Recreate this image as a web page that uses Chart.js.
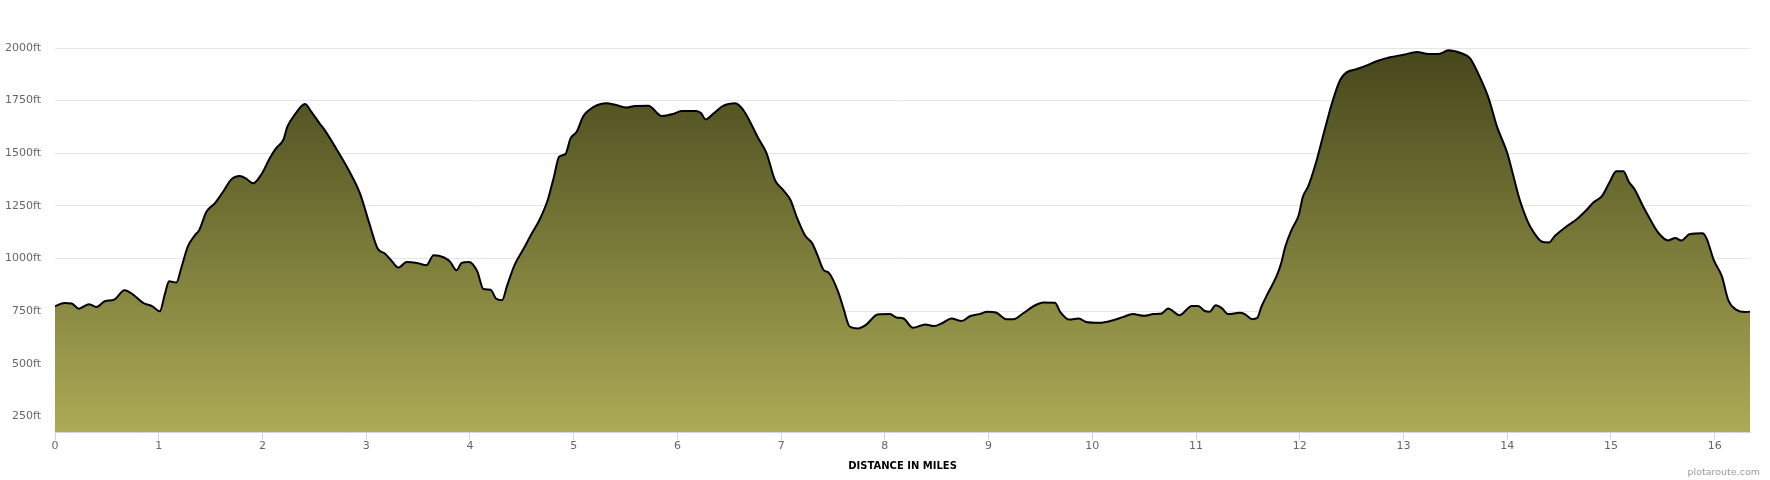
<!DOCTYPE html>
<html>
<head>
<meta charset="utf-8">
<script src="https://cdn.jsdelivr.net/npm/chart.js@4/dist/chart.umd.min.js"></script>
<style>
    body { margin: 0; background: #fff; }
    #wrap { position: relative; width: 1770px; height: 480px; }
    #credit { position: absolute; right: 10px; top: 466px; font: 9.5px "DejaVu Sans", sans-serif; color: #999; }
</style>
</head>
<body>
<div id="wrap">
    <canvas id="perfil"></canvas>
    <div id="credit">plotaroute.com</div>
</div>
<script>
// distancia (milhas) e altitude (ft)
const miles = [
    0.00, 0.09, 0.16, 0.23, 0.33, 0.40, 0.48, 0.57, 0.67, 0.75, 0.85, 0.94,
    1.01, 1.06, 1.10, 1.17, 1.22, 1.28, 1.35, 1.39, 1.46, 1.54, 1.62, 1.70, 1.78, 1.84, 1.91, 1.99,
    2.07, 2.13, 2.20, 2.24, 2.31, 2.41, 2.47, 2.55, 2.60, 2.71, 2.84, 2.94,
    3.03, 3.11, 3.18, 3.24, 3.31, 3.39, 3.49, 3.58, 3.65, 3.75, 3.81, 3.87, 3.92, 3.99,
    4.07, 4.13, 4.20, 4.25, 4.31, 4.36, 4.43, 4.51, 4.60, 4.67, 4.75, 4.81, 4.86, 4.92, 4.97,
    5.03, 5.09, 5.15, 5.23, 5.31, 5.41, 5.51, 5.59, 5.72, 5.85, 5.96,
    6.04, 6.18, 6.23, 6.27, 6.35, 6.44, 6.56, 6.64, 6.70, 6.78, 6.86, 6.94,
    7.02, 7.09, 7.15, 7.23, 7.30, 7.35, 7.41, 7.46, 7.55, 7.60, 7.66, 7.74, 7.82, 7.93,
    8.05, 8.11, 8.18, 8.27, 8.39, 8.47, 8.56, 8.64, 8.74, 8.82, 8.91, 8.99,
    9.07, 9.17, 9.24, 9.33, 9.45, 9.53, 9.64, 9.69, 9.78, 9.87, 9.94,
    10.07, 10.20, 10.30, 10.39, 10.50, 10.59, 10.67, 10.73, 10.84, 10.96,
    11.02, 11.08, 11.13, 11.19, 11.25, 11.31, 11.42, 11.47, 11.54, 11.59, 11.63, 11.70, 11.78, 11.82, 11.86, 11.92, 11.99,
    12.03, 12.08, 12.15, 12.24, 12.32, 12.39, 12.45, 12.55, 12.64, 12.74, 12.87,
    13.00, 13.13, 13.24, 13.35, 13.43, 13.55, 13.64, 13.74, 13.82, 13.90,
    14.00, 14.06, 14.12, 14.19, 14.25, 14.33, 14.40, 14.46, 14.57, 14.67, 14.75, 14.83, 14.91, 14.99,
    15.05, 15.12, 15.17, 15.23, 15.31, 15.38, 15.46, 15.55, 15.62, 15.68, 15.76, 15.88, 15.92, 15.99,
    16.07, 16.13, 16.21, 16.29, 16.34
];
const altitude = [
    773, 789, 786, 762, 783, 770, 797, 805, 849, 830, 789, 773,
    749, 833, 892, 886, 960, 1056, 1111, 1135, 1222, 1262, 1317, 1376, 1392, 1381, 1357, 1400,
    1476, 1523, 1563, 1626, 1682, 1734, 1698, 1642, 1610, 1523, 1412, 1309,
    1167, 1048, 1024, 992, 957, 984, 979, 968, 1016, 1005, 984, 944, 979, 984,
    940, 855, 852, 810, 802, 874, 969, 1040, 1122, 1183, 1278, 1389, 1484, 1496, 1571,
    1603, 1674, 1706, 1729, 1737, 1729, 1717, 1725, 1726, 1677, 1687,
    1701, 1701, 1690, 1661, 1690, 1725, 1737, 1702, 1650, 1571, 1500, 1373,
    1325, 1278, 1198, 1111, 1072, 1016, 945, 932, 842, 765, 677, 668, 686, 734,
    736, 720, 715, 671, 687, 679, 695, 715, 703, 726, 736, 747,
    744, 712, 712, 739, 778, 791, 790, 747, 710, 715, 699,
    695, 707, 723, 736, 728, 736, 739, 763, 731, 775,
    775, 752, 747, 778, 763, 736, 742, 736, 712, 718, 771, 842, 921, 977, 1056, 1135, 1207,
    1294, 1341, 1445, 1612, 1754, 1849, 1884, 1900, 1916, 1937, 1956,
    1968, 1981, 1971, 1973, 1989, 1976, 1952, 1857, 1762, 1628,
    1501, 1390, 1279, 1184, 1128, 1081, 1076, 1108, 1152, 1187, 1223, 1266, 1295, 1366,
    1414, 1414, 1366, 1327, 1247, 1184, 1120, 1086, 1097, 1086, 1117, 1120, 1097, 994,
    914, 803, 756, 746, 747
];
const xTicks = [0, 1, 2, 3, 4, 5, 6, 7, 8, 9, 10, 11, 12, 13, 14, 15, 16];
const yTicks = [250, 500, 750, 1000, 1250, 1500, 1750, 2000];

const pontos = miles.map((m, i) => ({ x: m, y: altitude[i] }));

function gradiente(context) {
    const chart = context.chart;
    const area = chart.chartArea;
    if (!area) return '#8a8b44';
    const g = chart.ctx.createLinearGradient(0, area.top, 0, area.bottom);
    g.addColorStop(0, '#45461b');
    g.addColorStop(1, '#acab56');
    return g;
}

const fonte = { family: 'DejaVu Sans', size: 11 };

const ctx = document.getElementById('perfil').getContext('2d');
const perfil = new Chart(ctx, {
    type: 'line',
    data: {
        datasets: [
            {
                label: 'Elevation',
                data: pontos,
                fill: 'start',
                backgroundColor: gradiente,
                borderColor: '#000',
                borderWidth: 2,
                pointRadius: 0,
                cubicInterpolationMode: 'monotone'
            }
        ]
    },
    options: {
        responsive: true,
        maintainAspectRatio: false,
        animation: false,
        layout: { padding: { top: 48, right: 20, left: 0, bottom: 0 } },
        plugins: {
            legend: { display: false },
            tooltip: { enabled: false }
        },
        scales: {
            x: {
                type: 'linear',
                min: 0,
                max: 16.34,
                afterBuildTicks: s => { s.ticks = xTicks.map(v => ({ value: v })); },
                afterFit: s => { s.height = 48; },
                grid: { drawOnChartArea: false, drawTicks: true, tickLength: 8, color: '#ccd6eb' },
                border: { color: '#ccd6eb', width: 1 },
                ticks: { padding: 0, color: '#666', font: fonte, maxRotation: 0 },
                title: {
                    display: true,
                    text: 'DISTANCE IN MILES',
                    color: '#000',
                    font: { family: 'DejaVu Sans', size: 10, weight: 'bold' },
                    padding: { top: 4, bottom: 8 }
                }
            },
            y: {
                min: 176,
                max: 2000,
                afterBuildTicks: s => { s.ticks = yTicks.map(v => ({ value: v })); },
                afterFit: s => { s.width = 55; },
                grid: { color: '#e6e6e6', drawTicks: false },
                border: { display: false },
                ticks: { padding: 14, color: '#666', font: fonte, callback: v => v + 'ft' }
            }
        }
    }
});
</script>
</body>
</html>
